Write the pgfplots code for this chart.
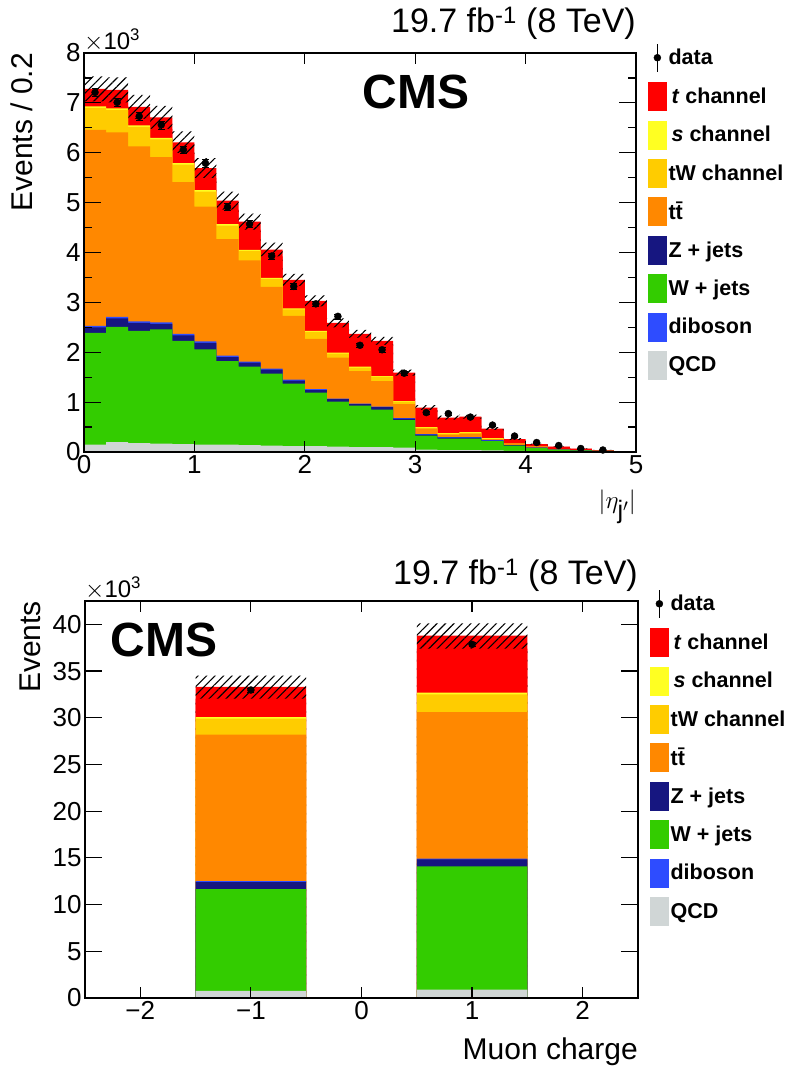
\documentclass[border=0pt]{standalone}
\usepackage{fontspec}
\setmainfont{Liberation Sans}
\usepackage{pgfplots}
\pgfplotsset{compat=1.18}
\usepackage{pgfplotstable}
\usetikzlibrary{patterns.meta}

\definecolor{ctch}{HTML}{FF0000}
\definecolor{csch}{HTML}{FFFF22}
\definecolor{ctw}{HTML}{FFCC00}
\definecolor{ctt}{HTML}{FF8800}
\definecolor{cz}{HTML}{161680}
\definecolor{cw}{HTML}{33CC00}
\definecolor{cdb}{HTML}{2E4CFF}
\definecolor{cqcd}{HTML}{D0D6D6}

\pgfplotstableread{
x qcd w z db tt tw s tot hu hl
0.0 0.15 2.39 2.50 2.53 6.46 6.90 6.93 7.28 7.53 7.03
0.2 0.20 2.51 2.68 2.71 6.41 6.86 6.89 7.26 7.51 7.01
0.4 0.18 2.43 2.59 2.62 6.13 6.52 6.55 6.92 7.16 6.68
0.6 0.17 2.46 2.57 2.60 5.91 6.27 6.30 6.71 6.94 6.48
0.8 0.16 2.23 2.34 2.37 5.41 5.76 5.79 6.21 6.43 5.99
1.0 0.15 2.06 2.19 2.22 4.92 5.22 5.25 5.69 5.89 5.49
1.2 0.15 1.82 1.90 1.93 4.27 4.54 4.57 5.04 5.22 4.86
1.4 0.14 1.71 1.79 1.81 3.84 4.03 4.05 4.62 4.78 4.46
1.6 0.13 1.57 1.65 1.67 3.31 3.47 3.49 4.06 4.20 3.92
1.8 0.12 1.37 1.43 1.45 2.73 2.86 2.88 3.45 3.57 3.33
2.0 0.12 1.19 1.24 1.26 2.27 2.41 2.43 3.03 3.14 2.92
2.2 0.11 1.01 1.06 1.07 1.89 1.97 1.99 2.59 2.68 2.50
2.4 0.10 0.93 0.96 0.97 1.62 1.69 1.71 2.37 2.45 2.29
2.6 0.10 0.85 0.90 0.91 1.42 1.51 1.52 2.23 2.31 2.15
2.8 0.09 0.64 0.67 0.68 0.96 1.01 1.02 1.59 1.65 1.53
3.0 0.05 0.33 0.35 0.36 0.47 0.49 0.50 0.89 0.94 0.84
3.2 0.04 0.27 0.29 0.30 0.35 0.37 0.38 0.69 0.73 0.65
3.4 0.04 0.27 0.29 0.30 0.37 0.39 0.40 0.71 0.75 0.67
3.6 0.03 0.22 0.23 0.24 0.26 0.27 0.28 0.47 0.50 0.44
3.8 0.02 0.13 0.14 0.14 0.16 0.17 0.17 0.26 0.28 0.24
4.0 0.01 0.08 0.09 0.09 0.10 0.11 0.11 0.16 0.17 0.15
4.2 0.01 0.05 0.05 0.05 0.06 0.06 0.06 0.11 0.115 0.105
4.4 0.00 0.03 0.03 0.03 0.04 0.04 0.04 0.07 0.075 0.065
4.6 0.00 0.02 0.02 0.02 0.02 0.02 0.02 0.04 0.042 0.038
4.8 0.00 0.01 0.01 0.01 0.01 0.01 0.01 0.01 0.011 0.010
5.0 0.00 0.01 0.01 0.01 0.01 0.01 0.01 0.01 0.011 0.010
}\etatab

\pgfplotstableread{
x y e
0.1 7.21 0.085
0.3 7.01 0.084
0.5 6.73 0.082
0.7 6.56 0.081
0.9 6.06 0.078
1.1 5.79 0.076
1.3 4.91 0.070
1.5 4.57 0.068
1.7 3.93 0.063
1.9 3.32 0.058
2.1 2.97 0.054
2.3 2.72 0.052
2.5 2.14 0.046
2.7 2.05 0.045
2.9 1.58 0.040
3.1 0.79 0.028
3.3 0.77 0.028
3.5 0.70 0.026
3.7 0.54 0.023
3.9 0.32 0.018
4.1 0.19 0.014
4.3 0.13 0.011
4.5 0.07 0.008
4.7 0.04 0.006
}\etadata

\pgfplotstableread{
x qcd w z db tt tw s tot hu hl
-1.5 0.75 11.65 12.40 12.50 28.20 29.90 30.07 33.30 34.50 32.05
-0.5 0 0 0 0 0 0 0 0 0 0
0.5 0.90 14.10 14.85 14.93 30.60 32.50 32.70 38.80 40.10 37.40
1.5 0.90 14.10 14.85 14.93 30.60 32.50 32.70 38.80 40.10 37.40
}\chtab

\pgfplotstableread{
x y e
-1 32.97 0.18
1 37.86 0.19
}\chdata

\pgfplotsset{
  boxleg/.style={legend image code/.code={\fill[#1] (0pt,-14pt) rectangle (18pt,14pt);}},
  dataleg/.style={legend image code/.code={\draw[line width=1pt] (9pt,-14pt)--(9pt,14pt); \fill (9pt,0pt) circle (3.5pt);}},
  cmsaxis/.style={
    scale only axis, axis on top, anchor=south west, clip=false,
    tick align=inside, tick pos=both,
    axis line style={line width=1.2pt},
    tick style={line width=1.2pt, black},
    xtick style={/pgfplots/major tick length=11pt},
    ytick style={/pgfplots/major tick length=17pt, /pgfplots/minor tick length=8pt},
    tick label style={font=\fontsize{26}{26}\selectfont},
    label style={font=\fontsize{30}{30}\selectfont, inner sep=0pt},
    /pgf/number format/assume math mode=true,
    legend cell align=left,
    legend style={draw=none, fill=none, inner sep=0pt, anchor=north west,
      font=\bfseries\fontsize{21.5}{24}\selectfont, row sep=10pt},
  },
  stk/.style={fill=#1, draw=none, const plot mark left, forget plot},
  hatch/.style={pattern={Lines[angle=45,distance=6pt,line width=1.1pt]}, draw=none, const plot mark left, forget plot},
}

\begin{document}
\begin{tikzpicture}
\path[use as bounding box] (0pt,0pt) rectangle (786pt,1069pt);

% ---------------- top panel ----------------
\begin{axis}[cmsaxis, at={(84pt,617pt)}, width=552pt, height=399pt,
  xmin=0, xmax=5, ymin=0, ymax=8,
  xtick={0,1,2,3,4,5}, ytick={0,1,2,3,4,5,6,7,8}, minor y tick num=1,
  xlabel={\fontsize{36}{36}\selectfont$|\eta_{\mathrm{j'}}|$}, ylabel={Events / 0.2},
  xlabel style={at={(rel axis cs:1,-0.095)}, anchor=north east},
  ylabel style={at={(rel axis cs:-0.112,1)}, anchor=east},
  legend style={at={(rel axis cs:1.0217,1.025)}},
]
\addplot[stk=ctch] table[x=x,y=tot]{\etatab} \closedcycle;
\addplot[hatch] table[x=x,y=hu]{\etatab} \closedcycle;
\addplot[stk=ctch] table[x=x,y=hl]{\etatab} \closedcycle;
\addplot[stk=csch] table[x=x,y=s]{\etatab} \closedcycle;
\addplot[stk=ctw] table[x=x,y=tw]{\etatab} \closedcycle;
\addplot[stk=ctt] table[x=x,y=tt]{\etatab} \closedcycle;
\addplot[stk=cdb] table[x=x,y=db]{\etatab} \closedcycle;
\addplot[stk=cz] table[x=x,y=z]{\etatab} \closedcycle;
\addplot[stk=cw] table[x=x,y=w]{\etatab} \closedcycle;
\addplot[stk=cqcd] table[x=x,y=qcd]{\etatab} \closedcycle;
\addplot[only marks, mark=*, mark size=3.5pt, black, forget plot,
  error bars/.cd, y dir=both, y explicit, error bar style={line width=1pt}]
  table[x=x,y=y,y error=e]{\etadata};

\addlegendimage{dataleg}\addlegendentry{data}
\addlegendimage{boxleg=ctch}\addlegendentry{\kern3pt\textit{t} channel}
\addlegendimage{boxleg=csch}\addlegendentry{\kern3pt\textit{s} channel}
\addlegendimage{boxleg=ctw}\addlegendentry{tW channel}
\addlegendimage{boxleg=ctt}\addlegendentry{t\=t}
\addlegendimage{boxleg=cz}\addlegendentry{Z + jets}
\addlegendimage{boxleg=cw}\addlegendentry{W + jets}
\addlegendimage{boxleg=cdb}\addlegendentry{diboson}
\addlegendimage{boxleg=cqcd}\addlegendentry{QCD}

\node[anchor=north west, inner sep=0pt, font=\bfseries\fontsize{48}{48}\selectfont] at (rel axis cs:0.504,0.945) {CMS};
\node[anchor=base east, inner sep=0pt, yshift=20pt, font=\fontsize{34}{34}\selectfont] at (rel axis cs:1,1) {19.7 fb\textsuperscript{-1} (8 TeV)};
\node[anchor=base west, inner sep=0pt, yshift=3pt, font=\fontsize{24}{24}\selectfont] at (rel axis cs:0,1) {$\times$10\textsuperscript{3}};
\end{axis}

% ---------------- bottom panel ----------------
\begin{axis}[cmsaxis, at={(85pt,71pt)}, width=553pt, height=397pt,
  xmin=-2.5, xmax=2.5, ymin=0, ymax=42.5,
  xtick={-2,-1,0,1,2}, xticklabels={−2,−1,0,1,2},
  ytick={0,5,10,15,20,25,30,35,40},
  xlabel={Muon charge}, ylabel={Events},
  xlabel style={at={(rel axis cs:1,-0.10)}, anchor=north east},
  ylabel style={at={(rel axis cs:-0.098,1)}, anchor=east},
  legend style={at={(rel axis cs:1.0217,1.030)}},
]
\addplot[stk=ctch] table[x=x,y=tot]{\chtab} \closedcycle;
\addplot[hatch] table[x=x,y=hu]{\chtab} \closedcycle;
\addplot[stk=ctch] table[x=x,y=hl]{\chtab} \closedcycle;
\addplot[stk=csch] table[x=x,y=s]{\chtab} \closedcycle;
\addplot[stk=ctw] table[x=x,y=tw]{\chtab} \closedcycle;
\addplot[stk=ctt] table[x=x,y=tt]{\chtab} \closedcycle;
\addplot[stk=cdb] table[x=x,y=db]{\chtab} \closedcycle;
\addplot[stk=cz] table[x=x,y=z]{\chtab} \closedcycle;
\addplot[stk=cw] table[x=x,y=w]{\chtab} \closedcycle;
\addplot[stk=cqcd] table[x=x,y=qcd]{\chtab} \closedcycle;
\addplot[only marks, mark=*, mark size=3.5pt, black, forget plot,
  error bars/.cd, y dir=both, y explicit, error bar style={line width=1pt}]
  table[x=x,y=y,y error=e]{\chdata};

\addlegendimage{dataleg}\addlegendentry{data}
\addlegendimage{boxleg=ctch}\addlegendentry{\kern3pt\textit{t} channel}
\addlegendimage{boxleg=csch}\addlegendentry{\kern3pt\textit{s} channel}
\addlegendimage{boxleg=ctw}\addlegendentry{tW channel}
\addlegendimage{boxleg=ctt}\addlegendentry{t\=t}
\addlegendimage{boxleg=cz}\addlegendentry{Z + jets}
\addlegendimage{boxleg=cw}\addlegendentry{W + jets}
\addlegendimage{boxleg=cdb}\addlegendentry{diboson}
\addlegendimage{boxleg=cqcd}\addlegendentry{QCD}

\node[anchor=north west, inner sep=0pt, font=\bfseries\fontsize{48}{48}\selectfont] at (rel axis cs:0.046,0.945) {CMS};
\node[anchor=base east, inner sep=0pt, yshift=16pt, font=\fontsize{34}{34}\selectfont] at (rel axis cs:1,1) {19.7 fb\textsuperscript{-1} (8 TeV)};
\node[anchor=base west, inner sep=0pt, yshift=3pt, font=\fontsize{24}{24}\selectfont] at (rel axis cs:0,1) {$\times$10\textsuperscript{3}};
\end{axis}
\end{tikzpicture}
\end{document}
